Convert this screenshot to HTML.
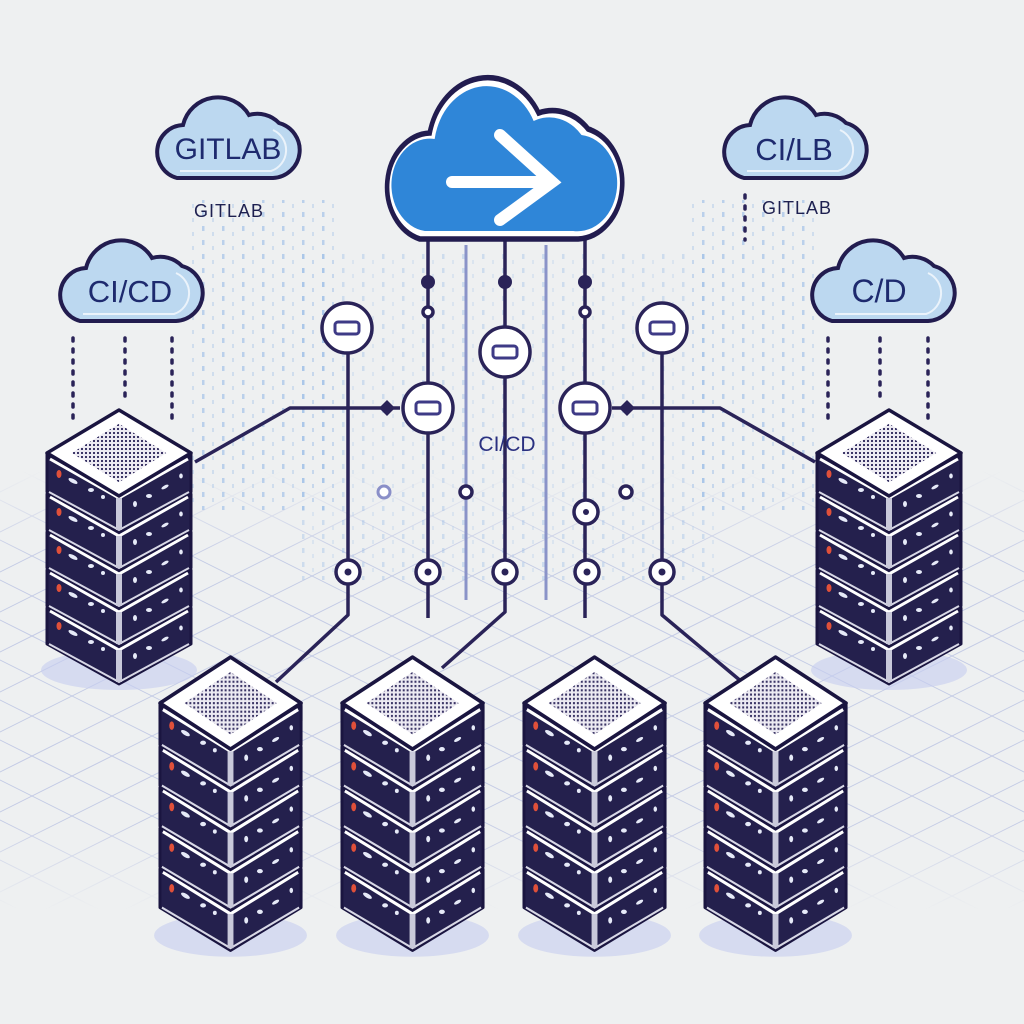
<!DOCTYPE html>
<html><head><meta charset="utf-8"><style>
html,body{margin:0;padding:0;background:#eef0f1;width:1024px;height:1024px;overflow:hidden;}
svg{display:block}
text{font-family:"Liberation Sans",sans-serif;}
</style></head><body>
<svg width="1024" height="1024" viewBox="0 0 1024 1024" xmlns="http://www.w3.org/2000/svg">
<defs>
<pattern id="dots" width="20" height="14" patternUnits="userSpaceOnUse">
<rect x="2" y="2" width="2.5" height="5" fill="#8fb6e6"/>
<rect x="12" y="8" width="2" height="4" fill="#b5cdea"/>
</pattern>
<pattern id="mesh" width="4" height="4" patternUnits="userSpaceOnUse">
<rect width="4" height="4" fill="#eceaf2"/>
<rect width="2" height="2" fill="#3b3566"/>
</pattern>
<linearGradient id="fade" x1="0" y1="0" x2="0" y2="1">
<stop offset="0" stop-color="#fff" stop-opacity="0"/>
<stop offset="0.2" stop-color="#fff" stop-opacity="1"/>
<stop offset="0.8" stop-color="#fff" stop-opacity="1"/>
<stop offset="1" stop-color="#fff" stop-opacity="0"/>
</linearGradient>
<mask id="gridmask"><rect x="0" y="470" width="1024" height="440" fill="url(#fade)"/></mask>
<g id="cloud">
<path d="M32,93 H128 A28,28 0 0 0 134,38 A30,30 0 0 0 104,30 A36,36 0 0 0 38,40 A27,27 0 0 0 32,93 Z" fill="#bcd8f0" stroke="#221c4f" stroke-width="4"/>
<path d="M35,86 H126 A22,22 0 0 0 128,45" fill="none" stroke="#ffffff" stroke-width="2" opacity="0.7"/>
</g>
<g id="unit">
<polygon points="2,0 74,40 146,0 146,36 74,76 2,36" fill="#24204d" stroke="#1a1540" stroke-width="3" stroke-linejoin="round"/>
<polyline points="5,3 74,42 143,3" fill="none" stroke="#ffffff" stroke-width="3"/>
<polyline points="4,36 74,74 144,36" fill="none" stroke="#d8d8e6" stroke-width="2"/>
<rect x="71" y="42" width="6" height="32" fill="#c9c9da"/>
<ellipse cx="14" cy="18" rx="2.5" ry="4" fill="#e0503a"/>
<ellipse cx="28" cy="25" rx="5" ry="2" fill="#e6eaf8" transform="rotate(28 28 25)"/>
<ellipse cx="46" cy="34" rx="3" ry="2" fill="#e6eaf8"/>
<ellipse cx="58" cy="41" rx="2" ry="2" fill="#e6eaf8"/>
<ellipse cx="90" cy="48" rx="2" ry="3" fill="#e6eaf8"/>
<ellipse cx="104" cy="40" rx="3" ry="2" fill="#e6eaf8"/>
<ellipse cx="120" cy="31" rx="4" ry="1.6" fill="#e6eaf8" transform="rotate(-28 120 31)"/>
<ellipse cx="136" cy="20" rx="1.8" ry="2.5" fill="#e6eaf8"/>
</g>
<g id="server">
<ellipse cx="74" cy="262" rx="78" ry="20" fill="#c6cdf0" opacity="0.6"/>
<polygon points="2,45 74,4 146,45 146,60 2,60" fill="#ffffff" stroke="#1a1540" stroke-width="3"/>
<use href="#unit" y="200"/>
<use href="#unit" y="162"/>
<use href="#unit" y="124"/>
<use href="#unit" y="86"/>
<use href="#unit" y="48"/>
<polygon points="74,2 146,45 74,88 2,45" fill="#ffffff" stroke="#1a1540" stroke-width="3.5" stroke-linejoin="round"/>
<polygon points="74,14 124,45 74,76 24,45" fill="url(#mesh)" stroke="#ffffff" stroke-width="3"/>
</g>
</defs>

<!-- floor grid -->
<g mask="url(#gridmask)" stroke="#9aa6da" stroke-width="1" opacity="0.5">
<g id="gl">
<line x1="-400" y1="300" x2="1100" y2="1050"/><line x1="-400" y1="340" x2="1100" y2="1090"/>
<line x1="-400" y1="380" x2="1100" y2="1130"/><line x1="-400" y1="420" x2="1100" y2="1170"/>
<line x1="-400" y1="460" x2="1100" y2="1210"/><line x1="-400" y1="500" x2="1100" y2="1250"/>
<line x1="-400" y1="540" x2="1100" y2="1290"/><line x1="-400" y1="580" x2="1100" y2="1330"/>
<line x1="-400" y1="620" x2="1100" y2="1370"/><line x1="-400" y1="660" x2="1100" y2="1410"/>
<line x1="-400" y1="700" x2="1100" y2="1450"/><line x1="-400" y1="260" x2="1100" y2="1010"/>
<line x1="-400" y1="220" x2="1100" y2="970"/><line x1="-400" y1="180" x2="1100" y2="930"/>
<line x1="-400" y1="140" x2="1100" y2="890"/><line x1="-400" y1="100" x2="1100" y2="850"/>
<line x1="-400" y1="60" x2="1100" y2="810"/><line x1="-400" y1="20" x2="1100" y2="770"/>
<line x1="-400" y1="-20" x2="1100" y2="730"/><line x1="-400" y1="-60" x2="1100" y2="690"/>
<line x1="-400" y1="-100" x2="1100" y2="650"/><line x1="-400" y1="-140" x2="1100" y2="610"/>
<line x1="-400" y1="-180" x2="1100" y2="570"/><line x1="-400" y1="-220" x2="1100" y2="530"/>
<line x1="-400" y1="-260" x2="1100" y2="490"/>
</g>
<use href="#gl" transform="translate(1024,0) scale(-1,1)"/>
</g>

<!-- dotted background -->
<rect x="185" y="200" width="150" height="310" fill="url(#dots)" opacity="0.55"/>
<rect x="300" y="250" width="420" height="330" fill="url(#dots)" opacity="0.35"/>
<rect x="690" y="200" width="130" height="310" fill="url(#dots)" opacity="0.55"/>

<!-- dark dotted drops -->
<g stroke="#2a2358" stroke-width="3.5" stroke-dasharray="3,8" stroke-linecap="round">
<line x1="73" y1="338" x2="73" y2="420"/><line x1="125" y1="338" x2="125" y2="400"/><line x1="172" y1="338" x2="172" y2="420"/>
<line x1="828" y1="338" x2="828" y2="425"/><line x1="880" y1="338" x2="880" y2="400"/><line x1="928" y1="338" x2="928" y2="420"/>
<line x1="745" y1="195" x2="745" y2="240"/>
</g>

<!-- light verticals -->
<g stroke="#8a93c8" stroke-width="3">
<line x1="466" y1="245" x2="466" y2="600"/><line x1="546" y1="245" x2="546" y2="600"/>
</g>

<!-- dark connectors -->
<g stroke="#2a2358" stroke-width="3.5" fill="none" stroke-linejoin="round">
<line x1="428" y1="240" x2="428" y2="618"/>
<line x1="585" y1="240" x2="585" y2="618"/>
<polyline points="505,240 505,612 442,668"/>
<polyline points="348,340 348,615 276,682"/>
<polyline points="662,340 662,615 742,682"/>
<polyline points="195,462 290,408 400,408"/>
<polyline points="815,462 720,408 612,408"/>
</g>
<g fill="#2a2358">
<circle cx="428" cy="282" r="7"/><circle cx="505" cy="282" r="7"/><circle cx="585" cy="282" r="7"/>
<polygon points="387,400 395,408 387,416 379,408"/><polygon points="627,400 635,408 627,416 619,408"/>
</g>
<g fill="#ffffff" stroke="#2a2358" stroke-width="3.5">
<circle cx="428" cy="312" r="5"/><circle cx="585" cy="312" r="5"/>
<circle cx="347" cy="328" r="25"/><circle cx="428" cy="408" r="25"/><circle cx="505" cy="352" r="25"/>
<circle cx="585" cy="408" r="25"/><circle cx="662" cy="328" r="25"/>
<circle cx="466" cy="492" r="6"/><circle cx="626" cy="492" r="6"/><circle cx="586" cy="512" r="12"/>
<circle cx="348" cy="572" r="12"/><circle cx="428" cy="572" r="12"/><circle cx="505" cy="572" r="12"/>
<circle cx="587" cy="572" r="12"/><circle cx="662" cy="572" r="12"/>
</g>
<circle cx="384" cy="492" r="6" fill="#ffffff" stroke="#8a8fc8" stroke-width="3"/>
<g fill="#2a2358">
<circle cx="586" cy="512" r="3"/><circle cx="348" cy="572" r="3.5"/><circle cx="428" cy="572" r="3.5"/>
<circle cx="505" cy="572" r="3.5"/><circle cx="587" cy="572" r="3.5"/><circle cx="662" cy="572" r="3.5"/>
</g>
<g fill="#ffffff" stroke="#3e3a86" stroke-width="3">
<rect x="335" y="322" width="24" height="12" rx="3"/><rect x="416" y="402" width="24" height="12" rx="3"/>
<rect x="493" y="346" width="24" height="12" rx="3"/><rect x="573" y="402" width="24" height="12" rx="3"/>
<rect x="650" y="322" width="24" height="12" rx="3"/>
</g>
<text x="507" y="451" font-size="21" fill="#2a3080" text-anchor="middle">CI/CD</text>

<!-- clouds -->
<use href="#cloud" transform="translate(145,85)"/>
<text x="228" y="159" font-size="30" fill="#1e2a6e" text-anchor="middle">GITLAB</text>
<text x="229" y="217" font-size="18" fill="#1e2050" text-anchor="middle" letter-spacing="1">GITLAB</text>
<use href="#cloud" transform="translate(48,228)"/>
<text x="130" y="302" font-size="31" fill="#1e2a6e" text-anchor="middle">CI/CD</text>
<use href="#cloud" transform="translate(712,85)"/>
<text x="794" y="160" font-size="31" fill="#1e2a6e" text-anchor="middle">CI/LB</text>
<text x="797" y="214" font-size="18" fill="#1e2050" text-anchor="middle" letter-spacing="1">GITLAB</text>
<use href="#cloud" transform="translate(800,228)"/>
<text x="879" y="302" font-size="32" fill="#1e2a6e" text-anchor="middle">C/D</text>

<!-- main cloud -->
<g transform="translate(367,53) scale(1.65,2.0)">
<path d="M32,93 H128 A28,28 0 0 0 134,38 A30,30 0 0 0 104,30 A36,36 0 0 0 38,40 A27,27 0 0 0 32,93 Z" fill="#ffffff" stroke="#221c4f" stroke-width="2.8"/>
<path d="M35,89 H125 A24,24 0 0 0 130,41 A26,26 0 0 0 101,34 A32,32 0 0 0 41,43 A23,23 0 0 0 35,89 Z" fill="#2f86d8"/>
</g>
<g stroke="#ffffff" stroke-width="12" stroke-linecap="round" fill="none">
<line x1="452" y1="182" x2="550" y2="182"/>
<polyline points="500,135 552,182 500,220"/>
</g>

<!-- servers -->
<use href="#server" transform="translate(45,408)"/>
<use href="#server" transform="translate(815,408)"/>
<use href="#server" transform="translate(158,655) scale(0.98,1.07)"/>
<use href="#server" transform="translate(340,655) scale(0.98,1.07)"/>
<use href="#server" transform="translate(522,655) scale(0.98,1.07)"/>
<use href="#server" transform="translate(703,655) scale(0.98,1.07)"/>
</svg>
</body></html>
